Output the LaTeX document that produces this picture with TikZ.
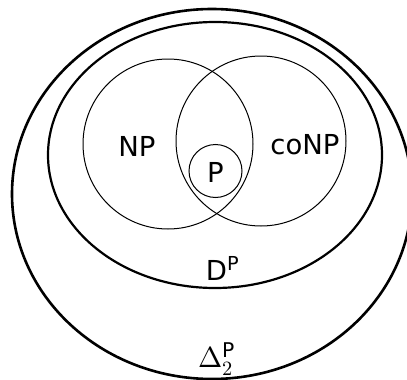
\documentclass[tikz,border=0pt]{standalone}
\usepackage{amsmath}
\usepackage{fontspec}
\setmainfont{DejaVu Sans}
\newfontfamily\lmgreek{latinmodern-math.otf}
\usetikzlibrary{positioning}

\begin{document}
\begin{tikzpicture}[x=1pt, y=-1pt,
    hull/.style={draw=black, line width=2.6pt},
    venn/.style={draw=black, line width=1pt},
    lbl/.style={font=\fontsize{27.5}{30}\selectfont, inner sep=0pt}
]
    \useasboundingbox (0,0) rectangle (407,380);

    % Delta_2^P and D^P
    \draw[hull] (212,194) ellipse [x radius=200, y radius=185];
    \draw[hull, line width=2.2pt] (215,155) ellipse [x radius=167, y radius=133];

    % NP, coNP, P
    \draw[venn] (168,144) circle [radius=85];
    \draw[venn] (261,141) circle [radius=85];
    \draw[venn] (215.5,171) circle [radius=26.5];

    \node[lbl] (np) at (137,146) {NP};
    \node[lbl] (conp) at (305,145) {coNP};
    \node[lbl] (p) at (215.5,172.5) {P};
    \node[lbl, anchor=base] (dp) at (222.5,280) {D$^{\text{P}}$};
    \node[lbl, font=\fontsize{29}{30}\selectfont, anchor=base] (delta) at (216.5,367)
        {{\lmgreek Δ}$_{\text{\lmgreek 2}}^{\text{P}}$};
\end{tikzpicture}
\end{document}
